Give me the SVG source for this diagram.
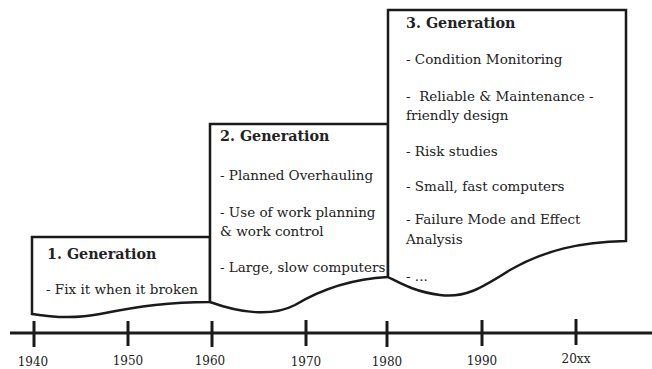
<svg xmlns="http://www.w3.org/2000/svg" width="652" height="369" viewBox="0 0 652 369">
  <style>
    .box { fill: #ffffff; stroke: #1a1a1a; stroke-width: 2.5; stroke-linejoin: miter; }
    .axis { stroke: #1a1a1a; stroke-width: 3; fill: none; }
    .tick { stroke: #1a1a1a; stroke-width: 3; }
    text { font-family: "DejaVu Serif", "Liberation Serif", serif; fill: #222222; }
    .title { font-size: 14.3px; font-weight: bold; }
    .item { font-size: 13.5px; }
    .year { font-size: 12px; text-anchor: middle; }
  </style>

  <rect width="652" height="369" fill="#ffffff"/>

  <!-- first generation: 1940-1960 -->
  <g id="gen1">
    <path class="box" d="M32,237 H210 V302 C170,302 140,306 100,314 C75,319 50,317 32,314 Z"/>
    <text class="title" x="47" y="259">1. Generation</text>
    <text class="item" x="46" y="294">- Fix it when it broken</text>
  </g>

  <!-- second generation: 1960-1980 -->
  <g id="gen2">
    <path class="box" d="M210,124 H388 V277 C350,279 320,290 295,305 C272,317 240,313 210,302 Z"/>
    <text class="title" x="220" y="141">2. Generation</text>
    <text class="item" x="220" y="180">- Planned Overhauling</text>
    <text class="item" x="220" y="217">- Use of work planning</text>
    <text class="item" x="220" y="236">&amp; work control</text>
    <text class="item" x="220" y="272">- Large, slow computers</text>
  </g>

  <!-- third generation: 1980 onwards -->
  <g id="gen3">
    <path class="box" d="M388,10 H626 V241 C580,242 545,250 510,270 C480,289 465,298 440,295 C415,292 400,283 388,277 Z"/>
    <text class="title" x="406" y="28">3. Generation</text>
    <text class="item" x="406" y="64">- Condition Monitoring</text>
    <text class="item" x="406" y="101" xml:space="preserve">-  Reliable &amp; Maintenance -</text>
    <text class="item" x="406" y="120">friendly design</text>
    <text class="item" x="406" y="156">- Risk studies</text>
    <text class="item" x="406" y="191">- Small, fast computers</text>
    <text class="item" x="406" y="224">- Failure Mode and Effect</text>
    <text class="item" x="406" y="244">Analysis</text>
    <text class="item" x="406" y="281">- ...</text>
  </g>

  <!-- time axis -->
  <g id="connectors">
    <line class="axis" x1="10" y1="333" x2="652" y2="333"/>
    <line class="tick" x1="34" y1="321" x2="34" y2="347"/>
    <line class="tick" x1="128" y1="321" x2="128" y2="346"/>
    <line class="tick" x1="212" y1="321" x2="212" y2="347"/>
    <line class="tick" x1="306" y1="320" x2="306" y2="346"/>
    <line class="tick" x1="387" y1="321" x2="387" y2="347"/>
    <line class="tick" x1="482" y1="320" x2="482" y2="346"/>
    <line class="tick" x1="576" y1="319" x2="576" y2="345"/>
  </g>

  <g id="years">
    <text class="year" x="33" y="366">1940</text>
    <text class="year" x="128" y="365">1950</text>
    <text class="year" x="210" y="365">1960</text>
    <text class="year" x="306" y="366">1970</text>
    <text class="year" x="387" y="366">1980</text>
    <text class="year" x="482" y="365">1990</text>
    <text class="year" x="576" y="363">20xx</text>
  </g>
</svg>
